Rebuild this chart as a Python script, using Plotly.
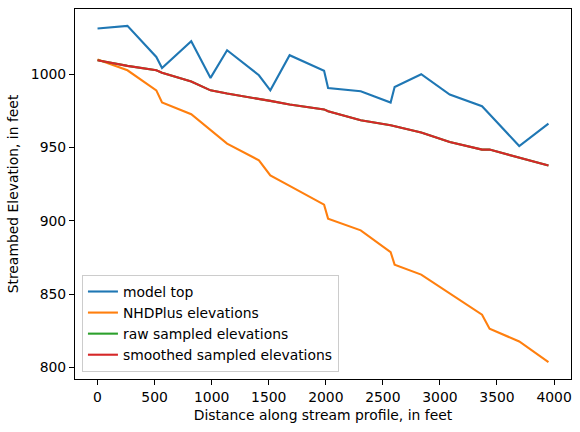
import plotly.graph_objects as go

distance = [0, 262, 515, 565, 821, 990, 1135, 1414, 1514, 1683, 1985, 2020,
            2306, 2568, 2603, 2836, 3086, 3369, 3435, 3695, 3951]
model_top = [1031.2, 1033.0, 1011.8, 1004.3, 1022.5, 997.5, 1016.4, 999.3, 989.0,
             1013.0, 1002.3, 990.6, 988.4, 980.7, 991.3, 1000.0, 986.1, 978.2,
             972.7, 951.0, 966.3]
nhdplus = [1010.0, 1002.7, 989.0, 980.7, 972.7, 961.8, 952.7, 941.3, 931.0, 923.8,
           911.0, 901.5, 893.5, 878.7, 870.1, 863.3, 850.5, 836.0, 826.4, 817.7, 803.6]
raw_sampled = [1009.6, 1005.7, 1002.7, 1001.0, 995.0, 989.0, 986.8, 983.4, 981.8,
               979.3, 976.0, 974.7, 968.6, 965.2, 964.5, 960.2, 953.8, 948.6, 948.6,
               943.1, 937.7]
smoothed_sampled = [1009.6, 1005.7, 1002.7, 1001.0, 995.0, 989.0, 986.8, 983.4, 981.8,
                    979.3, 976.0, 974.7, 968.6, 965.2, 964.5, 960.2, 953.8, 948.6, 948.6,
                    943.1, 937.7]

series = [
    ("model top", model_top, "#1f77b4"),
    ("NHDPlus elevations", nhdplus, "#ff7f0e"),
    ("raw sampled elevations", raw_sampled, "#2ca02c"),
    ("smoothed sampled elevations", smoothed_sampled, "#d62728"),
]

fig = go.Figure()
for name, vals, color in series:
    fig.add_trace(go.Scatter(x=distance, y=vals, mode="lines", name=name,
                             line=dict(color=color, width=2.1)))

font = dict(family="DejaVu Sans", size=13.9, color="black")
axis_common = dict(showline=True, mirror=True, linecolor="black", linewidth=1.1,
                   ticks="outside", ticklen=5, tickwidth=1.1, tickcolor="black",
                   showgrid=False, zeroline=False, tickfont=font, automargin=False)

fig.update_layout(
    width=580, height=432,
    margin=dict(l=75, r=9, t=9, b=53),
    paper_bgcolor="white", plot_bgcolor="white",
    font=font,
    xaxis=dict(range=[-197.5, 4148.5], tickvals=[0, 500, 1000, 1500, 2000, 2500, 3000, 3500, 4000],
               title=dict(text="Distance along stream profile, in feet", font=font, standoff=6),
               **axis_common),
    yaxis=dict(range=[792.1, 1044.5], tickvals=[800, 850, 900, 950, 1000],
               title=dict(text="Streambed Elevation, in feet", font=font, standoff=8),
               **axis_common),
    legend=dict(x=0.014, y=0.019, xanchor="left", yanchor="bottom",
                bgcolor="rgba(255,255,255,0.8)", bordercolor="#cccccc", borderwidth=1,
                font=font, tracegroupgap=0),
    showlegend=True,
)

fig.write_html("out.html", config={"displayModeBar": False},
               post_script="document.body.style.margin='0px';document.body.style.overflow='hidden';")
